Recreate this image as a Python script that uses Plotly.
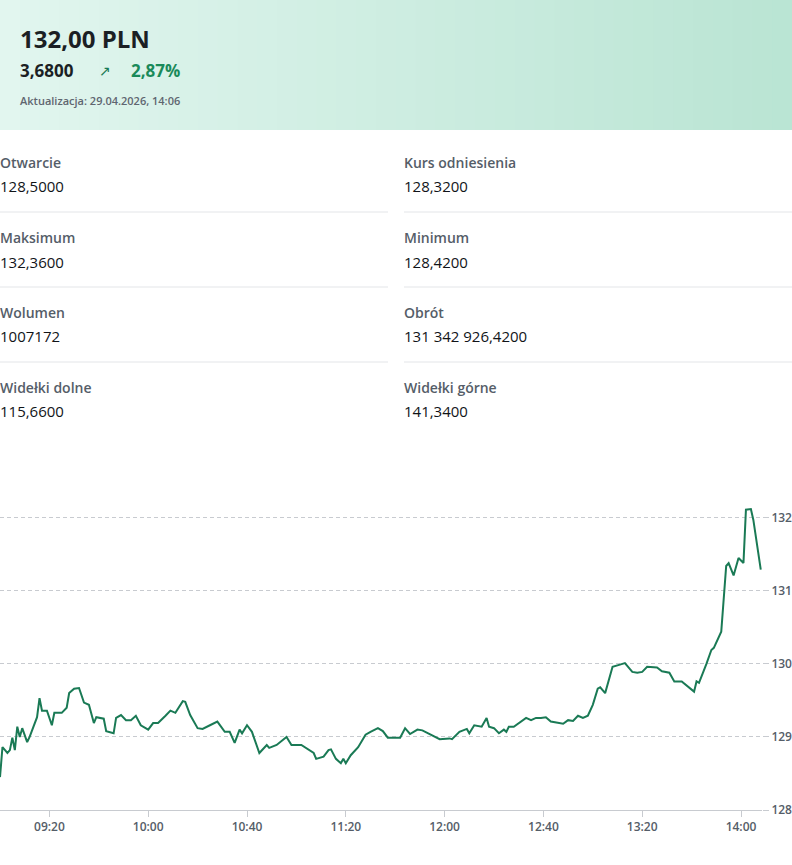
import plotly.graph_objects as go
import datetime as dt

minutes = [0,1,3,4,5,6,7,8,9,11,12,15,16,17,19,21,22,25,27,28,30,32,34,36,38,39,42,43,46,47,49,51,53,55,57,60,62,64,67,69,71,74,75,77,80,82,85,88,91,93,95,97,98,100,102,105,108,109,112,116,118,122,127,128,131,133,134,136,138,139,140,142,145,148,150,153,155,157,162,
           164,166,169,171,174,178,182,183,186,189,190,192,195,197,198,200,202,204,205,206,208,213,215,217,219,221,223,228,230,232,234,236,238,240,242,243,245,248,251,253,256,258,260,262,266,268,271,273,276,279,281,282,283,286,288,289,292,294,295,297,299,301,302,304,305,308]
prices = [128.45,128.86,128.78,128.82,128.99,128.82,129.14,129.0,129.12,128.93,129.0,129.27,129.53,129.36,129.36,129.16,129.33,129.33,129.40,129.60,129.66,129.67,129.47,129.44,129.19,129.27,129.25,129.08,129.05,129.26,129.30,129.23,129.23,129.29,129.16,129.10,129.19,129.19,129.29,129.36,129.33,129.49,129.48,129.30,129.12,129.11,129.16,129.21,129.07,129.07,128.92,129.10,129.05,129.16,129.07,128.78,128.89,128.85,128.89,129.0,128.89,128.89,128.78,128.70,128.73,128.82,128.83,128.70,128.64,128.70,128.64,128.75,128.86,129.03,129.07,129.12,129.08,128.99,128.99,
          129.12,129.04,129.10,129.09,129.04,128.97,128.98,128.97,129.07,129.11,129.05,129.16,129.14,129.26,129.14,129.12,129.05,129.10,129.07,129.14,129.14,129.26,129.23,129.26,129.26,129.27,129.21,129.18,129.23,129.22,129.29,129.26,129.29,129.44,129.66,129.68,129.60,129.96,129.99,130.01,129.89,129.88,129.89,129.96,129.95,129.90,129.88,129.76,129.76,129.68,129.62,129.76,129.74,130.0,130.19,130.22,130.44,131.34,131.38,131.21,131.45,131.38,132.11,132.12,131.97,131.29]
x_ticks = ["09:20","10:00","10:40","11:20","12:00","12:40","13:20","14:00"]
y_ticks = [128,129,130,131,132]

labels_left = ["Otwarcie","Maksimum","Wolumen","Widełki dolne"]
values_left = ["128,5000","132,3600","1007172","115,6600"]
labels_right = ["Kurs odniesienia","Minimum","Obrót","Widełki górne"]
values_right = ["128,3200","128,4200","131 342 926,4200","141,3400"]

base = dt.datetime(2026,4,29,9,0)
xs = [base + dt.timedelta(minutes=m) for m in minutes]
tickvals = [dt.datetime(2026,4,29,int(t[:2]),int(t[3:])) for t in x_ticks]

W, H = 792, 865
L, R, T, B = 0, 30, 490, 55
pw, ph = W-L-R, H-T-B
def px(x): return (x-L)/pw
def py(y): return (H-B-y)/ph

fig = go.Figure(go.Scatter(x=xs, y=prices, mode="lines", line=dict(color="#1a7a55", width=2), hoverinfo="skip"))

shapes = []
n = 40
for i in range(n):
    t = i/(n-1)
    c1 = (226,246,239); c2 = (186,229,212)
    c = tuple(int(c1[k]+(c2[k]-c1[k])*t) for k in range(3))
    shapes.append(dict(type="rect", xref="paper", yref="paper", x0=px(W*i/n), x1=px(W*(i+1)/n+1), y0=py(130), y1=py(0),
                       fillcolor="rgb(%d,%d,%d)"%c, line=dict(width=0), layer="below"))
for yy in [212,287,362]:
    shapes.append(dict(type="line", xref="paper", yref="paper", x0=px(0), x1=px(388), y0=py(yy), y1=py(yy), line=dict(color="#e3e5e8", width=1)))
    shapes.append(dict(type="line", xref="paper", yref="paper", x0=px(404), x1=px(792), y0=py(yy), y1=py(yy), line=dict(color="#e3e5e8", width=1)))

ann = []
def text(x, y, s, size, color, weight=400):
    ann.append(dict(xref="paper", yref="paper", x=px(x-2), y=py(y), text=s, showarrow=False,
                    xanchor="left", yanchor="middle", font=dict(size=size, color=color, family="Open Sans", weight=weight)))
text(20, 38, "132,00 PLN", 24, "#1b1f24", 700)
text(20, 71, "3,6800", 17, "#1b1f24", 700)
text(99, 71, "↗", 14, "#1a7a55")
text(131, 71, "2,87%", 17, "#1a8a5a", 700)
text(20, 101, "Aktualizacja: 29.04.2026, 14:06", 11, "#5f6670", 600)
rows = [162,238,312,387]
for i, r in enumerate(rows):
    text(0, r, labels_left[i], 14, "#555d68", 600)
    text(0, r+24, values_left[i], 15, "#111418", 500)
    text(404, r, labels_right[i], 14, "#555d68", 600)
    text(404, r+24, values_right[i], 15, "#111418", 500)

fig.update_layout(
    width=W, height=H, margin=dict(l=L, r=R, t=T, b=B), plot_bgcolor="white", paper_bgcolor="white",
    showlegend=False, shapes=shapes, annotations=ann,
    xaxis=dict(range=[base, base+dt.timedelta(minutes=308.5)], tickvals=tickvals, ticktext=x_ticks, showgrid=False,
               showline=True, linecolor="#c8cbd0", ticks="outside", ticklen=6, tickcolor="#c8cbd0",
               tickfont=dict(size=12, color="#555d68", family="Open Sans", weight=600), zeroline=False, fixedrange=True),
    yaxis=dict(range=[128, 132.38], tickvals=y_ticks, side="right", showgrid=True, gridcolor="#c8cbd0", griddash="4px,3px",
               ticks="outside", ticklen=6, tickcolor="#c8cbd0", zeroline=False,
               tickfont=dict(size=12, color="#555d68", family="Open Sans", weight=600)),
)
fig.write_html("out.html", config={"displayModeBar": False},
               post_script="document.body.style.margin='0';document.body.style.overflow='hidden';")
